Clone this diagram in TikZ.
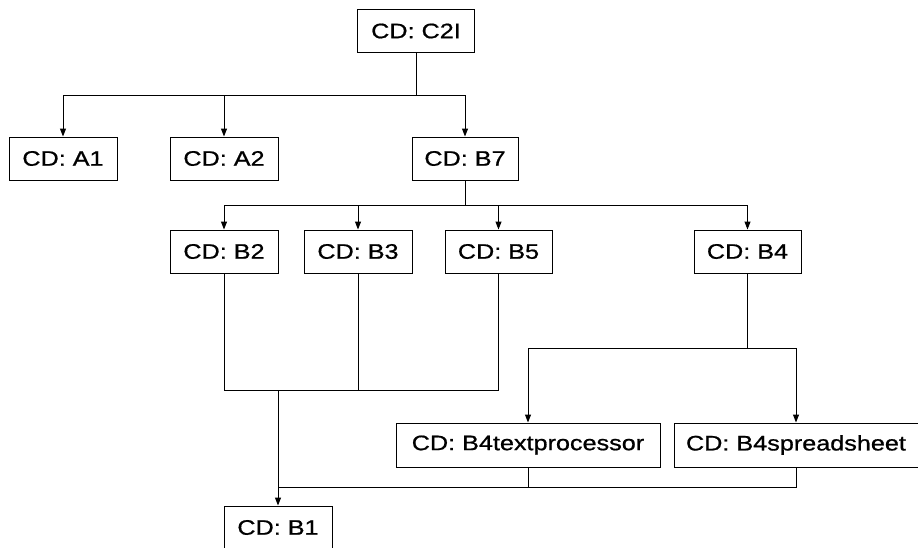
\documentclass[tikz,border=0pt]{standalone}
\usepackage{fontspec}
\newfontfamily\dfont[FakeStretch=1.2,FakeBold=0.8]{Liberation Sans}
\usetikzlibrary{arrows.meta}
\tikzset{
  cdbox/.style={draw=black, line width=1pt, fill=white, inner sep=0pt,
    minimum height=43pt, font=\dfont\fontsize{21}{25}\selectfont},
  conn/.style={draw=black, line width=1pt},
  arr/.style={conn, -{Triangle[length=8pt,width=6pt]}}
}
\begin{document}
\begin{tikzpicture}[x=1pt,y=-1pt]
\useasboundingbox[fill=white] (0,0) rectangle (918,547);
% nodes
\node[cdbox, minimum width=117pt] (C2I) at (416,31) {CD: C2I};
\node[cdbox, minimum width=108pt] (A1) at (63,158.5) {CD: A1};
\node[cdbox, minimum width=108pt] (A2) at (224,158.5) {CD: A2};
\node[cdbox, minimum width=106pt] (B7) at (465,158.5) {CD: B7};
\node[cdbox, minimum width=108pt] (B2) at (224,251.5) {CD: B2};
\node[cdbox, minimum width=108pt] (B3) at (358,251.5) {CD: B3};
\node[cdbox, minimum width=107pt] (B5) at (498.5,251.5) {CD: B5};
\node[cdbox, minimum width=107pt] (B4) at (747.5,251.5) {CD: B4};
\node[cdbox, minimum width=264pt, minimum height=44pt] (TP) at (528,445) {CD: B4textprocessor};
\node[cdbox, minimum width=244pt, minimum height=44pt] (SS) at (796,445) {CD: B4spreadsheet};
\node[cdbox, minimum width=108pt] (B1) at (278,527.5) {CD: B1};
% junctions
\coordinate (j1) at (416,95);
\coordinate (j2) at (465,205);
\coordinate (j3) at (278,390);
\coordinate (j4) at (747.5,348);
\coordinate (j5) at (278,487);
% connectors
\draw[conn] (C2I.south) -- (j1);
\draw[arr] (j1) -| (A1.north);
\draw[arr] (j1) -| (A2.north);
\draw[arr] (j1) -| (B7.north);
\draw[conn] (B7.south) -- (j2);
\draw[arr] (j2) -| (B2.north);
\draw[arr] (j2) -| (B3.north);
\draw[arr] (j2) -| (B5.north);
\draw[arr] (j2) -| (B4.north);
\draw[conn] (B2.south) |- (j3);
\draw[conn] (B3.south) |- (j3);
\draw[conn] (B5.south) |- (j3);
\draw[arr] (j3) -- (B1.north);
\draw[conn] (B4.south) -- (j4);
\draw[arr] (j4) -| (TP.north);
\draw[arr] (j4) -| (SS.north);
\draw[conn] (TP.south) |- (j5);
\draw[conn] (SS.south) |- (j5);
\end{tikzpicture}
\end{document}
